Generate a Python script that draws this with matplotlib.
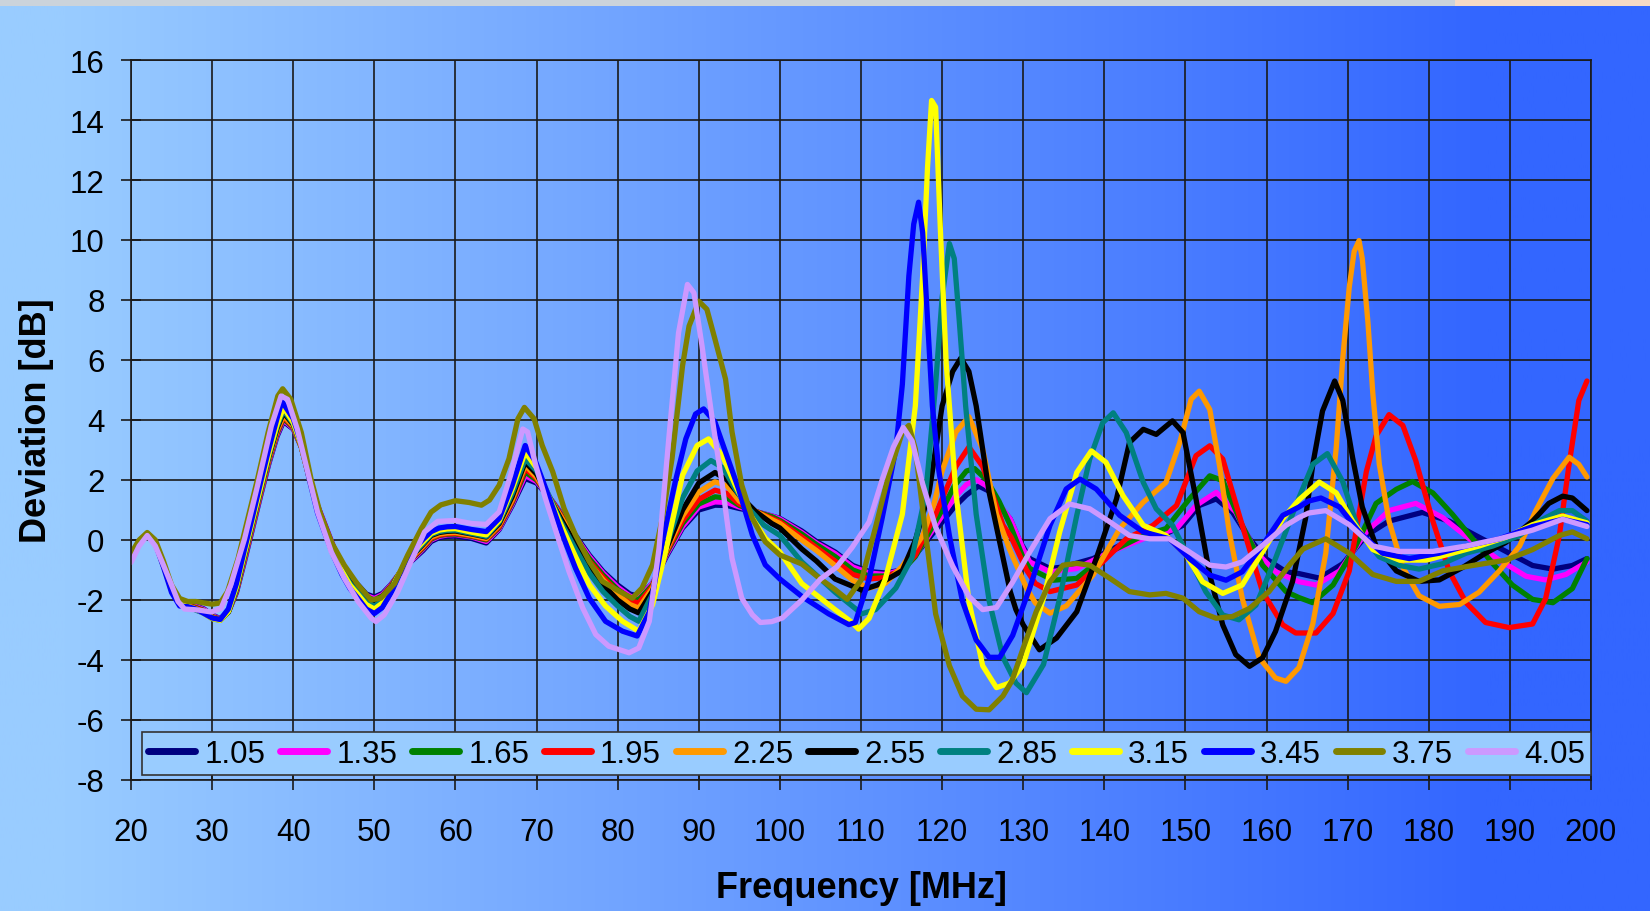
import numpy as np
import matplotlib.pyplot as plt
from matplotlib.patches import Rectangle

plt.rcParams['font.family'] = ['Liberation Sans', 'DejaVu Sans']
plt.rcParams['axes.unicode_minus'] = False

labels = ['1.05', '1.35', '1.65', '1.95', '2.25', '2.55', '2.85', '3.15', '3.45', '3.75', '4.05']
colors = ['#000080', '#FF00FF', '#008000', '#FF0000', '#FF9900', '#000000',
          '#008080', '#FFFF00', '#0000FF', '#808000', '#CC99FF']

# (frequency MHz, deviation dB)
pts_105 = [(20, -0.55), (21, -0.05), (22, 0.2), (23, -0.1), (24, -0.8), (25, -1.6), (26, -2.05), (27, -2.15),
           (28, -2.2), (29, -2.3), (30, -2.5), (31, -2.62), (32, -2.4), (33, -1.75), (34, -0.7), (35, 0.4),
           (36, 1.5), (37, 2.55), (38, 3.45), (38.8, 3.95), (40, 3.7), (41, 3.1), (42, 2.05), (43, 1.15),
           (44, 0.45), (45, -0.25), (46, -0.8), (47, -1.25), (48, -1.5), (49, -1.8), (50, -1.9), (51, -1.78),
           (52, -1.5), (53, -1.15), (54, -0.85), (55, -0.6), (56, -0.35), (57, -0.05), (58, 0.08), (59, 0.12),
           (60, 0.13), (62, 0.05), (63.8, -0.1), (65.4, 0.35), (67, 1.15), (68.6, 2.05), (70, 1.9), (71.5, 1.45),
           (73, 0.9), (74.8, 0.15), (76.5, -0.5), (78.2, -1.05), (80, -1.5), (81.5, -1.8), (82.6, -1.88),
           (84.3, -1.45), (86, -0.55), (88, 0.4), (90, 1.0), (92, 1.16), (93.5, 1.15), (95, 1.05), (97, 0.95),
           (99, 0.8), (100, 0.72), (102.7, 0.3), (104.5, -0.05), (106.8, -0.4), (109, -0.85), (111, -1.05),
           (113, -1.1), (115, -1.0), (116.7, -0.5), (118.5, 0.1), (120, 0.6), (121.5, 1.1), (123, 1.5),
           (124.5, 1.8), (126, 1.6), (127.5, 1.0), (128.4, 0.7), (129.5, 0.0), (130.8, -0.62), (133.3, -0.95),
           (134.9, -0.9), (138.6, -0.62), (141.9, -0.18), (144.8, 0.1), (147.6, 0.21), (149.7, 0.49),
           (151.7, 1.15), (153.8, 1.37), (155.8, 0.93), (157.9, 0.04), (159.9, -0.62), (162.4, -1.06),
           (164, -1.12), (166.5, -1.27), (169.4, -0.79), (172.3, 0.15), (175.1, 0.63), (179.2, 0.92),
           (182.5, 0.63), (185.8, 0.15), (189.5, -0.38), (192.8, -0.85), (195.3, -0.97), (197.7, -0.85),
           (199.5, -0.62)]

pts_135 = [(20, -0.57), (21, -0.05), (22, 0.2), (23, -0.1), (24, -0.8), (25, -1.6), (26, -2.05), (27, -2.15),
           (28, -2.22), (29, -2.32), (30, -2.52), (31, -2.63), (32, -2.4), (33, -1.72), (34, -0.65), (35, 0.45),
           (36, 1.55), (37, 2.6), (38, 3.5), (38.8, 4.0), (40, 3.72), (41, 3.1), (42, 2.05), (43, 1.15),
           (44, 0.45), (45, -0.25), (46, -0.82), (47, -1.28), (48, -1.55), (49, -1.85), (50, -1.95), (51, -1.82),
           (52, -1.52), (53, -1.15), (54, -0.83), (55, -0.57), (56, -0.3), (57, 0.0), (58, 0.12), (59, 0.17),
           (60, 0.18), (62, 0.1), (63.8, -0.05), (65.4, 0.38), (67, 1.2), (68.6, 2.15), (70, 1.95), (71.5, 1.45),
           (73, 0.88), (74.8, 0.1), (76.5, -0.55), (78.2, -1.1), (80, -1.57), (81.5, -1.87), (82.6, -1.94),
           (84.3, -1.45), (86, -0.5), (88, 0.45), (90, 1.1), (92, 1.27), (93.5, 1.25), (95, 1.1), (97, 0.95),
           (99, 0.8), (100, 0.7), (102.7, 0.25), (104.5, -0.1), (106.8, -0.45), (109, -0.9), (111, -1.1),
           (113, -1.15), (115, -1.0), (116.7, -0.5), (118.5, 0.2), (120, 0.8), (121.5, 1.4), (123, 1.85),
           (124.2, 2.01), (125.5, 1.8), (127, 1.2), (128.4, 0.7), (130, -0.3), (130.8, -0.73), (133.3, -1.06),
           (136.6, -0.95), (140.7, -0.4), (144.8, 0.04), (148.9, 0.38), (151.3, 1.15), (153.8, 1.59),
           (156.2, 0.93), (158.7, -0.4), (161.1, -1.06), (164, -1.39), (166.1, -1.5), (169, -1.03),
           (172.3, 0.27), (175.1, 0.98), (178.4, 1.22), (181.7, 0.75), (185, 0.04), (188.7, -0.67),
           (192, -1.21), (194.4, -1.33), (196.9, -1.15), (199.5, -0.73)]

pts_165 = [(20, -0.58), (21, -0.06), (22, 0.2), (23, -0.1), (24, -0.82), (25, -1.62), (26, -2.07), (27, -2.17),
           (28, -2.25), (29, -2.35), (30, -2.55), (31, -2.64), (32, -2.4), (33, -1.7), (34, -0.6), (35, 0.5),
           (36, 1.6), (37, 2.65), (38, 3.55), (38.8, 4.05), (40, 3.75), (41, 3.1), (42, 2.05), (43, 1.12),
           (44, 0.42), (45, -0.28), (46, -0.85), (47, -1.3), (48, -1.6), (49, -1.9), (50, -2.0), (51, -1.86),
           (52, -1.55), (53, -1.15), (54, -0.8), (55, -0.53), (56, -0.27), (57, 0.03), (58, 0.15), (59, 0.19),
           (60, 0.2), (62, 0.12), (63.8, 0.0), (65.4, 0.42), (67, 1.25), (68.6, 2.27), (70, 2.0), (71.5, 1.45),
           (73, 0.85), (74.8, 0.05), (76.5, -0.62), (78.2, -1.17), (80, -1.65), (81.5, -1.93), (82.6, -1.99),
           (84.3, -1.5), (86, -0.45), (88, 0.55), (90, 1.2), (92, 1.44), (93.5, 1.4), (95, 1.15), (97, 0.95),
           (99, 0.78), (100, 0.65), (102.7, 0.2), (104.5, -0.15), (106.8, -0.55), (109, -1.0), (111, -1.2),
           (113, -1.2), (115, -1.05), (116.7, -0.55), (118.5, 0.3), (120, 1.0), (121.5, 1.8), (123, 2.3),
           (124, 2.38), (125.5, 2.0), (127, 1.3), (128.4, 0.49), (130, -0.6), (130.8, -0.95), (133.7, -1.34),
           (136.6, -1.28), (140.7, -0.4), (144.8, 0.15), (147.6, 0.38), (150.5, 1.37), (153, 2.14),
           (154.6, 1.98), (157, 0.49), (159.5, -0.84), (162.4, -1.72), (164, -1.92), (165.7, -2.09),
           (168.2, -1.5), (171, -0.2), (173.5, 1.22), (176, 1.69), (178, 1.95), (180.5, 1.57), (182.9, 0.86),
           (185.4, 0.04), (187.9, -0.79), (190.3, -1.5), (192.8, -1.98), (195.3, -2.09), (197.7, -1.62),
           (199.5, -0.62)]

pts_195 = [(20, -0.6), (21, -0.07), (22, 0.2), (23, -0.1), (24, -0.83), (25, -1.63), (26, -2.08), (27, -2.18),
           (28, -2.27), (29, -2.37), (30, -2.57), (31, -2.65), (32, -2.4), (33, -1.68), (34, -0.58), (35, 0.52),
           (36, 1.62), (37, 2.7), (38, 3.6), (38.8, 4.1), (40, 3.78), (41, 3.12), (42, 2.05), (43, 1.1),
           (44, 0.4), (45, -0.3), (46, -0.88), (47, -1.33), (48, -1.63), (49, -1.94), (50, -2.05), (51, -1.9),
           (52, -1.57), (53, -1.15), (54, -0.78), (55, -0.5), (56, -0.24), (57, 0.06), (58, 0.17), (59, 0.21),
           (60, 0.22), (62, 0.14), (63.8, 0.03), (65.4, 0.45), (67, 1.3), (68.6, 2.38), (70, 2.05), (71.5, 1.45),
           (73, 0.82), (74.8, 0.0), (76.5, -0.7), (78.2, -1.25), (80, -1.73), (81.5, -2.02), (82.6, -2.1),
           (84.3, -1.55), (86, -0.4), (88, 0.65), (90, 1.35), (92, 1.66), (93.5, 1.55), (95, 1.2), (97, 0.95),
           (99, 0.72), (100, 0.6), (102.7, 0.1), (104.5, -0.25), (106.8, -0.7), (109, -1.15), (111, -1.3),
           (113, -1.25), (115, -1.0), (116.7, -0.5), (119.2, 0.86), (121.7, 2.45), (123.3, 3.1), (125, 2.45),
           (126.5, 1.3), (127.5, 0.5), (128.5, 0.1), (130.4, -1.0), (131.5, -1.45), (133.3, -1.72),
           (136.6, -1.5), (139.8, -0.73), (142.7, 0.04), (146, 0.49), (148.9, 1.15), (151.3, 2.81), (153, 3.14),
           (154.6, 2.7), (157, 0.49), (159.5, -1.72), (162, -2.83), (163.6, -3.1), (166.1, -3.1), (168.2, -2.45),
           (170.2, -1.03), (172.3, 2.28), (173.5, 3.47), (175.1, 4.18), (176.8, 3.82), (178.4, 2.64),
           (180.5, 0.63), (182.5, -1.03), (184.6, -2.09), (187, -2.75), (189.9, -2.92), (192.8, -2.8),
           (194.4, -1.96), (196.1, 0.15), (197.3, 2.52), (198.5, 4.65), (199.5, 5.3)]

pts_225 = [(20, -0.6), (21, -0.07), (22, 0.2), (23, -0.1), (24, -0.84), (25, -1.64), (26, -2.1), (27, -2.2),
           (28, -2.3), (29, -2.4), (30, -2.58), (31, -2.66), (32, -2.4), (33, -1.65), (34, -0.55), (35, 0.55),
           (36, 1.65), (37, 2.72), (38, 3.65), (38.8, 4.15), (40, 3.8), (41, 3.12), (42, 2.05), (43, 1.08),
           (44, 0.37), (45, -0.33), (46, -0.9), (47, -1.36), (48, -1.67), (49, -1.98), (50, -2.1), (51, -1.94),
           (52, -1.6), (53, -1.15), (54, -0.76), (55, -0.47), (56, -0.2), (57, 0.1), (58, 0.2), (59, 0.24),
           (60, 0.25), (62, 0.16), (63.8, 0.05), (65.4, 0.5), (67, 1.35), (68.6, 2.49), (70, 2.1), (71.5, 1.45),
           (73, 0.78), (74.8, -0.05), (76.5, -0.78), (78.2, -1.33), (80, -1.83), (81.5, -2.15), (82.6, -2.27),
           (84.3, -1.6), (86, -0.35), (88, 0.8), (90, 1.6), (92, 1.94), (93.5, 1.8), (95, 1.3), (97, 0.95),
           (99, 0.68), (100, 0.55), (102.7, 0.0), (104.5, -0.35), (106.8, -0.85), (109, -1.35), (111, -1.6),
           (113, -1.45), (115.1, -0.87), (117.6, 0.14), (119, 1.2), (120, 2.3), (121.7, 3.6), (123.3, 4.11),
           (125, 3.03), (126.7, 0.86), (128.3, -0.3), (130.4, -1.6), (131.5, -2.1), (133.3, -2.44),
           (135.3, -2.2), (138.6, -1.17), (141.9, 0.38), (144.8, 1.26), (147.6, 1.92), (149.3, 3.25),
           (150.7, 4.69), (151.7, 4.96), (153, 4.35), (154.2, 2.48), (155.4, 0.27), (157, -1.94), (159.1, -3.93),
           (161.1, -4.6), (162.4, -4.71), (164, -4.25), (165.7, -2.8), (167.3, -0.44), (168.6, 3.11),
           (169.4, 6.07), (170.2, 8.44), (170.8, 9.62), (171.4, 9.98), (171.8, 9.38), (172.5, 7.25),
           (173.1, 4.89), (173.9, 2.52), (175.1, 0.63), (176.8, -0.91), (178.8, -1.86), (181.3, -2.21),
           (183.8, -2.15), (186.2, -1.74), (188.7, -1.03), (191.2, -0.2), (193.2, 0.98), (195.3, 2.05),
           (197.3, 2.76), (198.5, 2.52), (199.5, 2.1)]

pts_255 = [(20, -0.6), (21, -0.08), (22, 0.2), (23, -0.1), (24, -0.85), (25, -1.65), (26, -2.1), (27, -2.2),
           (28, -2.32), (29, -2.42), (30, -2.6), (31, -2.67), (32, -2.4), (33, -1.62), (34, -0.5), (35, 0.6),
           (36, 1.7), (37, 2.78), (38, 3.72), (38.8, 4.25), (40, 3.85), (41, 3.15), (42, 2.05), (43, 1.05),
           (44, 0.33), (45, -0.37), (46, -0.95), (47, -1.4), (48, -1.7), (49, -2.02), (50, -2.15), (51, -1.98),
           (52, -1.62), (53, -1.15), (54, -0.73), (55, -0.43), (56, -0.15), (57, 0.15), (58, 0.25), (59, 0.29),
           (60, 0.3), (62, 0.2), (63.8, 0.1), (65.4, 0.55), (67, 1.45), (68.6, 2.6), (70, 2.2), (71.5, 1.45),
           (73, 0.7), (74.8, -0.15), (76.5, -0.92), (78.2, -1.5), (80, -2.0), (81.5, -2.3), (82.6, -2.43),
           (84.3, -1.7), (86, -0.3), (88, 1.0), (90, 1.9), (92, 2.25), (93.5, 2.0), (95, 1.5), (97, 0.95),
           (99, 0.55), (100, 0.4), (102.7, -0.3), (104.5, -0.7), (106.8, -1.3), (110.1, -1.67), (112, -1.5),
           (115.1, -1.02), (116.7, -0.01), (118.4, 1.58), (120, 4.47), (121.3, 5.62), (122.3, 6.06),
           (123.3, 5.62), (124.2, 4.47), (125.8, 1.58), (127.5, -0.58), (128.4, -1.72), (129.1, -2.32),
           (130, -2.83), (132, -3.66), (134.1, -3.27), (136.6, -2.39), (139, -0.62), (141.5, 1.37),
           (143.1, 3.25), (144.8, 3.69), (146.4, 3.52), (148.4, 3.97), (149.7, 3.58), (151.3, 1.37),
           (153, -1.17), (154.6, -2.83), (156.2, -3.82), (157.9, -4.21), (159.5, -3.93), (161.1, -3.05),
           (163.2, -1.39), (164.8, 0.71), (165.7, 2.52), (166.9, 4.3), (168.4, 5.3), (169.4, 4.65),
           (170.6, 2.76), (171.8, 1.1), (173.5, -0.2), (176, -1.03), (178.8, -1.38), (181.3, -1.33),
           (184.2, -0.91), (187, -0.44), (189.5, -0.08), (192.8, 0.63), (194.8, 1.22), (196.5, 1.46),
           (197.7, 1.4), (199.5, 0.98)]

pts_285 = [(20, -0.6), (21, -0.08), (22, 0.2), (23, -0.1), (24, -0.86), (25, -1.66), (26, -2.12), (27, -2.22),
           (28, -2.34), (29, -2.44), (30, -2.62), (31, -2.68), (32, -2.4), (33, -1.6), (34, -0.47), (35, 0.63),
           (36, 1.73), (37, 2.82), (38, 3.78), (38.8, 4.32), (40, 3.88), (41, 3.15), (42, 2.05), (43, 1.02),
           (44, 0.3), (45, -0.4), (46, -0.98), (47, -1.44), (48, -1.75), (49, -2.07), (50, -2.2), (51, -2.02),
           (52, -1.65), (53, -1.15), (54, -0.7), (55, -0.4), (56, -0.12), (57, 0.18), (58, 0.28), (59, 0.32),
           (60, 0.33), (62, 0.22), (63.8, 0.12), (65.4, 0.6), (67, 1.55), (68.6, 2.7), (70, 2.3), (71.5, 1.5),
           (73, 0.6), (74.8, -0.3), (76.5, -1.1), (78.2, -1.72), (80, -2.2), (81.5, -2.55), (82.6, -2.71),
           (84.3, -1.8), (86, -0.2), (88, 1.4), (89.8, 2.3), (91.5, 2.65), (93, 2.4), (94.5, 1.7), (96, 1.1),
           (98, 0.5), (100, 0.15), (102.7, -0.73), (106.8, -1.74), (110.1, -2.46), (111.8, -2.32),
           (114.3, -1.6), (116.3, -0.58), (118, 1.58), (119.2, 5.19), (120, 8.08), (120.9, 9.88), (121.5, 9.38),
           (122.1, 7.36), (122.9, 4.47), (124.2, 0.86), (125.8, -2.03), (127.5, -3.91), (129.1, -4.77),
           (130.4, -5.09), (132.5, -4.15), (134.5, -1.94), (136.6, 0.82), (138.2, 2.7), (139.8, 3.91),
           (141.1, 4.24), (142.7, 3.58), (144.8, 1.92), (146.4, 1.04), (148.4, 0.49), (150.5, -0.62),
           (152.5, -1.72), (154.6, -2.5), (156.6, -2.66), (158.7, -2.17), (161.1, -0.62), (163.6, 1.15),
           (165.7, 2.52), (167.5, 2.88), (169.4, 1.94), (171.4, 0.27), (173.9, -0.56), (176.4, -0.85),
           (178.8, -0.97), (181.7, -0.79), (184.6, -0.44), (187.9, -0.2), (191.2, 0.15), (193.6, 0.63),
           (196.1, 0.98), (197.7, 0.98), (199.5, 0.63)]

pts_315 = [(20, -0.62), (21, -0.08), (22, 0.2), (23, -0.1), (24, -0.87), (25, -1.7), (26, -2.15), (27, -2.2),
           (28, -2.3), (29, -2.45), (30, -2.62), (31, -2.68), (32, -2.38), (33, -1.55), (34, -0.42), (35, 0.68),
           (36, 1.78), (37, 2.88), (38, 3.85), (38.8, 4.42), (40, 3.92), (41, 3.15), (42, 2.02), (43, 0.98),
           (44, 0.25), (45, -0.45), (46, -1.03), (47, -1.5), (48, -1.82), (49, -2.15), (50, -2.3), (51, -2.1),
           (52, -1.7), (53, -1.15), (54, -0.67), (55, -0.35), (56, -0.06), (57, 0.22), (58, 0.33), (59, 0.37),
           (60, 0.38), (62, 0.26), (63.8, 0.17), (65.4, 0.65), (67, 1.7), (68.6, 2.93), (70, 2.4), (71.5, 1.45),
           (73.2, 0.39), (74.8, -0.55), (76.5, -1.49), (78.5, -2.2), (80.6, -2.71), (82.6, -3.04), (84.3, -2.16),
           (86, -0.28), (88, 2.16), (89.8, 3.15), (91.2, 3.37), (92.9, 2.82), (94.5, 1.83), (96.1, 0.94),
           (98.2, 0.06), (100, -0.4), (102.7, -1.45), (106.8, -2.32), (108.9, -2.75), (109.7, -2.97),
           (111, -2.61), (113, -1.3), (115.1, 0.86), (116.7, 4.47), (117.6, 8.8), (118.2, 12.41), (118.7, 14.65),
           (119.2, 14.43), (119.8, 10.25), (120.5, 5.91), (121.7, 1.58), (123.3, -2.03), (125, -4.19),
           (126.7, -4.92), (128.3, -4.77), (130, -4.15), (132.5, -1.94), (134.5, 0.27), (136.6, 2.25),
           (138.4, 2.97), (140.2, 2.59), (142.3, 1.48), (144.8, 0.49), (147.6, 0.15), (150.1, -0.51),
           (152.1, -1.39), (154.6, -1.78), (157, -1.5), (159.5, -0.4), (162, 0.71), (164, 1.34), (166.5, 1.93),
           (168.6, 1.57), (170.6, 0.63), (173.1, -0.32), (176.4, -0.67), (179.7, -0.67), (182.9, -0.44),
           (186.2, -0.2), (189.5, 0.09), (192.8, 0.51), (196.5, 0.8), (199.5, 0.57)]

pts_345 = [(20, -0.65), (21, -0.1), (22, 0.2), (23, -0.12), (24, -0.9), (25, -1.75), (26, -2.2), (27, -2.22),
           (28, -2.3), (29, -2.45), (30, -2.6), (31, -2.65), (32, -2.3), (33, -1.45), (34, -0.3), (35, 0.8),
           (36, 1.95), (37, 3.05), (38, 4.05), (38.6, 4.62), (40, 4.05), (41, 3.2), (42, 2.0), (43, 0.9),
           (44, 0.15), (45, -0.55), (46, -1.15), (47, -1.62), (48, -1.95), (49, -2.3), (50, -2.45), (51, -2.25),
           (52, -1.8), (53, -1.2), (54, -0.62), (55, -0.28), (56, 0.02), (57, 0.28), (58, 0.4), (59, 0.44),
           (60, 0.45), (62, 0.35), (63.8, 0.28), (65.4, 0.72), (67, 1.83), (68.6, 3.15), (69.9, 2.6),
           (71.6, 1.38), (73.2, 0.17), (74.8, -0.94), (76.5, -1.94), (78.5, -2.71), (80.6, -3.04), (82.4, -3.2),
           (83.9, -2.4), (85.5, -0.06), (87.1, 1.94), (88.4, 3.37), (89.6, 4.2), (90.6, 4.37), (92, 3.93),
           (93.3, 2.93), (94.9, 1.71), (96.6, 0.17), (98.2, -0.83), (100, -1.3), (102.7, -1.88), (106, -2.46),
           (108.5, -2.82), (109.3, -2.75), (111, -1.3), (112.6, 0.72), (114.3, 3.03), (115.1, 5.19),
           (115.9, 8.8), (116.5, 10.53), (117.1, 11.26), (117.6, 10.25), (118.2, 7.36), (118.8, 4.47),
           (119.6, 2.3), (120.9, 0.14), (122.5, -2.03), (124.2, -3.33), (125.8, -3.91), (127.1, -3.91),
           (128.7, -3.18), (130.8, -1.6), (133.3, 0.49), (135.3, 1.7), (137, 2.03), (139, 1.7), (141.9, 0.82),
           (144.8, 0.27), (148, 0.04), (150.5, -0.62), (153, -1.17), (155, -1.34), (157, -1.06), (159.5, -0.18),
           (162, 0.82), (164, 1.1), (165.2, 1.3), (166.7, 1.4), (169, 1.1), (171.4, 0.27), (174.3, -0.44),
           (177.6, -0.62), (181.3, -0.44), (184.6, -0.2), (188.7, 0.04), (192.8, 0.45), (196.5, 0.69),
           (199.5, 0.51)]

pts_375 = [(20, -0.45), (21, 0.0), (22, 0.25), (23, 0.0), (24, -0.7), (25, -1.5), (26, -1.95), (27, -2.05),
           (28, -2.05), (29, -2.1), (30, -2.14), (31, -2.1), (31.9, -1.72), (33.2, -0.62), (34.4, 0.71),
           (35.6, 2.03), (36.9, 3.58), (38.1, 4.8), (38.7, 5.04), (39.7, 4.69), (41, 3.58), (42.2, 2.03),
           (43.4, 0.82), (44.7, -0.07), (46.3, -0.84), (48, -1.5), (49.6, -2.0), (50.8, -1.94), (52.5, -1.45),
           (54.1, -0.51), (55.8, 0.38), (57, 0.93), (58.2, 1.17), (60, 1.31), (61.7, 1.25), (63.2, 1.16),
           (64.2, 1.33), (65.4, 1.83), (66.6, 2.71), (67.7, 4.04), (68.5, 4.42), (69.7, 4.04), (70.7, 3.15),
           (72, 2.27), (73.4, 1.05), (74.8, 0.17), (76.5, -0.72), (78.1, -1.38), (80.2, -1.71), (81.8, -1.94),
           (83, -1.6), (84.3, -0.83), (85.5, 0.72), (86.7, 2.71), (88, 5.81), (88.8, 7.13), (90, 7.96),
           (91, 7.69), (92, 6.69), (93.3, 5.36), (94.1, 3.6), (95.3, 1.83), (96.6, 0.72), (98.2, -0.06),
           (100, -0.5), (102.7, -0.8), (105, -1.3), (106.8, -1.65), (108.3, -1.98), (110.1, -1.3), (111.8, 0.43),
           (113.4, 2.16), (115.1, 3.6), (115.9, 3.82), (116.7, 3.03), (118, 0.14), (119.2, -2.46),
           (120.9, -4.19), (122.5, -5.2), (124.2, -5.64), (125.8, -5.66), (127.5, -5.2), (128.6, -4.7),
           (130, -3.6), (131.6, -2.39), (133.3, -1.39), (134.9, -0.84), (136.6, -0.78), (138.2, -0.84),
           (140.7, -1.28), (143.1, -1.72), (145.6, -1.83), (147.6, -1.78), (149.7, -1.94), (151.7, -2.39),
           (153.8, -2.61), (155.8, -2.55), (157.9, -2.28), (160.3, -1.72), (162.8, -0.84), (164.5, -0.3),
           (167.3, 0.04), (170.2, -0.44), (173.1, -1.15), (176, -1.38), (178.8, -1.38), (181.7, -1.03),
           (185.4, -0.85), (189.5, -0.67), (192.8, -0.32), (196.1, 0.15), (197.7, 0.27), (199.5, 0.04)]

pts_405 = [(20, -0.75), (21, -0.2), (22, 0.15), (23, -0.2), (24, -0.84), (25, -1.5), (25.8, -2.05),
           (26.6, -2.3), (28.2, -2.33), (29.9, -2.4), (31.1, -2.28), (32.3, -1.5), (34, 0.04), (35.6, 1.81),
           (37.3, 3.8), (38.5, 4.8), (39.3, 4.69), (40.5, 3.7), (41.8, 2.25), (43, 0.93), (44.7, -0.4),
           (46.3, -1.28), (48, -2.05), (49.6, -2.6), (50.2, -2.72), (51.2, -2.5), (52.9, -1.72), (54.5, -0.73),
           (56.2, 0.27), (57.8, 0.62), (60, 0.65), (62, 0.55), (63.8, 0.52), (65.4, 0.94), (66.8, 2.16),
           (68.3, 3.7), (68.9, 3.6), (69.9, 2.49), (71.1, 1.38), (72.4, 0.28), (74, -1.05), (75.7, -2.27),
           (77.3, -3.15), (78.9, -3.54), (81.4, -3.76), (82.6, -3.6), (83.9, -2.71), (85.1, -0.28), (86.3, 3.37),
           (87.5, 6.9), (88.6, 8.52), (89.4, 8.24), (90.4, 6.47), (91.6, 4.15), (92.9, 1.83), (94.1, -0.61),
           (95.3, -1.94), (96.6, -2.49), (97.6, -2.75), (99, -2.72), (100.3, -2.6), (102.7, -2.0), (105, -1.3),
           (107, -0.9), (108.9, -0.25), (111, 0.6), (112.6, 2.0), (114, 3.1), (115.2, 3.75), (116.3, 3.3),
           (117.6, 1.87), (119.2, 0.43), (121.3, -0.87), (123.3, -1.88), (125, -2.32), (126.7, -2.25),
           (128.7, -1.4), (130.8, -0.4), (133.3, 0.71), (135.7, 1.2), (138.2, 1.04), (140.7, 0.6), (143.1, 0.15),
           (145.6, 0.04), (148, 0.04), (150.5, -0.4), (153, -0.84), (155, -0.9), (157, -0.73), (159.5, -0.18),
           (162.4, 0.49), (164, 0.75), (165.2, 0.9), (167.3, 0.98), (170.2, 0.51), (173.1, -0.2), (176.4, -0.38),
           (180.5, -0.38), (184.6, -0.2), (188.7, 0.04), (192.8, 0.33), (196.5, 0.69), (199.5, 0.45)]

series = [pts_105, pts_135, pts_165, pts_195, pts_225, pts_255,
          pts_285, pts_315, pts_345, pts_375, pts_405]

fig = plt.figure(figsize=(16.5, 9.12), dpi=100)

# horizontal blue gradient behind everything
bg = fig.add_axes([0, 0, 1, 1], zorder=-10)
t = np.clip((np.linspace(0, 1, 800) - 0.04) / 0.86, 0, 1)
c_left = np.array([153, 204, 255]) / 255
c_right = np.array([51, 102, 255]) / 255
grad = c_left[None, :] + t[:, None] * (c_right - c_left)[None, :]
bg.imshow(grad[None, :, :], aspect='auto', extent=[0, 1, 0, 1])
bg.add_patch(Rectangle((0, 1 - 7 / 912), 0.882, 7 / 912, color='#CBD3DB', lw=0))
bg.add_patch(Rectangle((0.882, 1 - 7 / 912), 0.118, 7 / 912, color='#F5DAC6', lw=0))
bg.set_xlim(0, 1)
bg.set_ylim(0, 1)
bg.axis('off')

ax = fig.add_axes([131 / 1650, 131 / 912, 1460 / 1650, 720 / 912])
ax.set_facecolor('none')

for pts, lab, col in zip(series, labels, colors):
    f = [p[0] for p in pts]
    d = [p[1] for p in pts]
    ax.plot(f, d, color=col, lw=3.8, label=lab, solid_joinstyle='round', solid_capstyle='round')

ax.set_xlim(20, 200)
ax.set_ylim(-8, 16)
ax.set_xticks(range(20, 201, 10))
ax.set_yticks(range(-8, 17, 2))
ax.set_axisbelow(True)
ax.grid(True, color='#1a1a1a', lw=1.2)
for sp in ax.spines.values():
    sp.set_color('#1a1a1a')
    sp.set_linewidth(1.2)
ax.tick_params(direction='inout', length=15, width=1.2, color='#1a1a1a', labelsize=22.5)
ax.tick_params(axis='x', pad=19)
ax.tick_params(axis='y', pad=11.5)

ax.set_xlabel('Frequency [MHz]', fontsize=26, fontweight='bold')
ax.set_ylabel('Deviation [dB]', fontsize=26, fontweight='bold')
ax.xaxis.set_label_coords(0.5, -0.125)
ax.yaxis.set_label_coords(-0.053, 0.5)

leg = ax.legend(loc='lower left', bbox_to_anchor=(0.0075, 0.007, 0.9925, 0.065), mode='expand',
                ncol=11, fontsize=22.5, frameon=True, fancybox=False, facecolor='#99CCFF',
                edgecolor='#333333', framealpha=1, handlelength=1.5, handletextpad=0.3,
                columnspacing=0.5, borderaxespad=0, borderpad=0.2)
leg.get_frame().set_linewidth(1.2)
for line in leg.get_lines():
    line.set_linewidth(5)

fig.savefig('out.png', dpi=100)
